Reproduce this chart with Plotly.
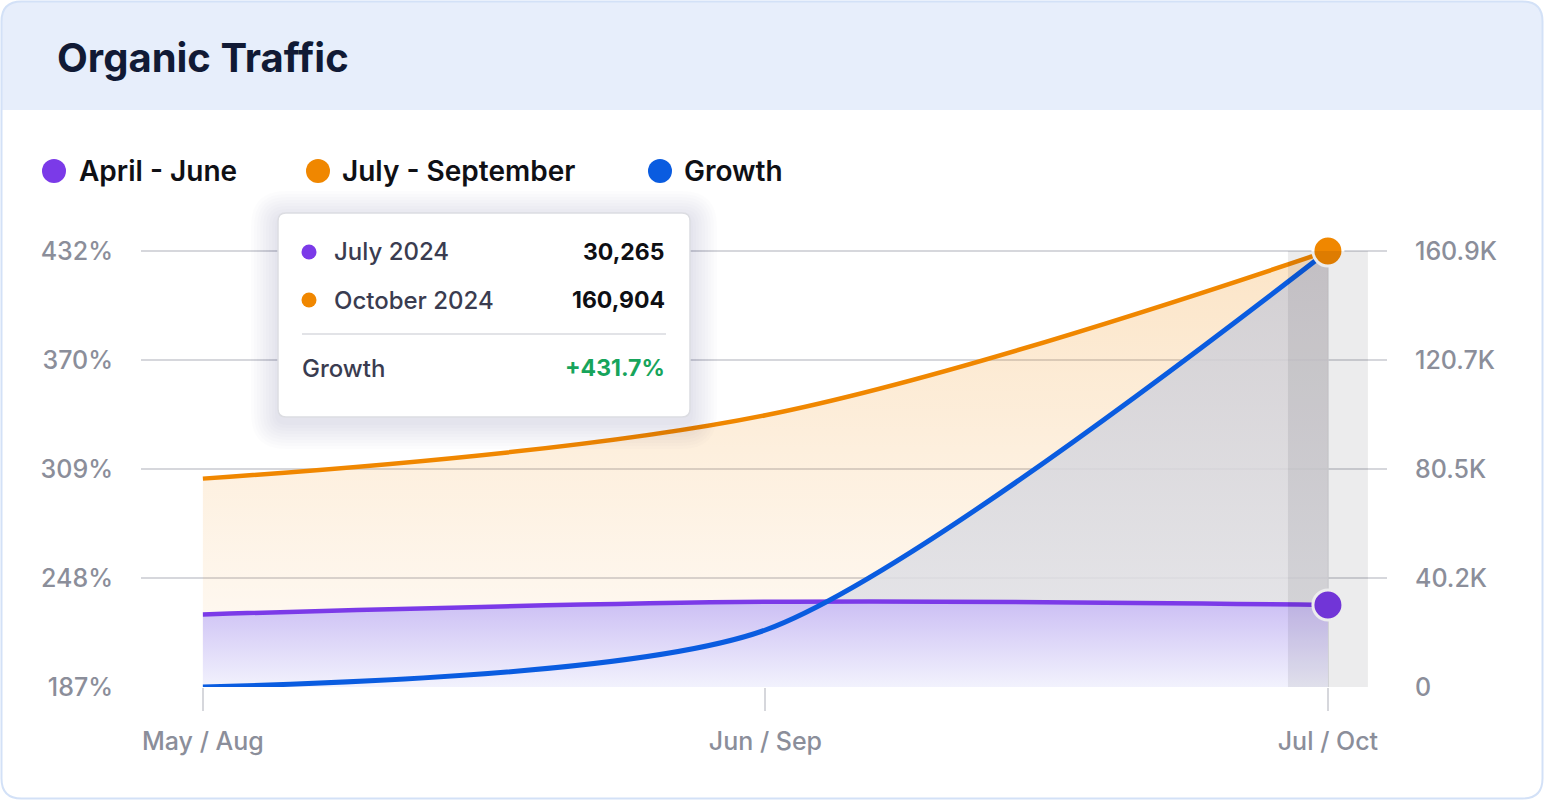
import plotly.graph_objects as go

# canvas + plot box (pixels)
W, H = 1544, 800
L, R, T, B = 141, 157, 240, 113
PW, PH = W - L - R, H - T - B

# data
months = ["May / Aug", "Jun / Sep", "Jul / Oct"]
april_june = [26800, 31450, 30265]
july_september = [76900, 100300, 160904]
growth = [186.9, 218.9, 431.7]

traffic_ticks = [0, 40226, 80452, 120678, 160904]
traffic_labels = ["0", "40.2K", "80.5K", "120.7K", "160.9K"]
growth_ticks = [186.9, 248.1, 309.3, 370.5, 431.7]
growth_labels = ["187%", "248%", "309%", "370%", "432%"]

series_names = ["April - June", "July - September", "Growth"]
tooltip_months = ["July 2024", "October 2024"]

PURPLE = "#7b3ae8"
ORANGE = "#f08700"
BLUE = "#0a5ce0"
GREEN = "#17a45b"
FONT = "Inter"

pad = 11  # px of headroom above top gridline
g_range = [growth_ticks[0], growth_ticks[-1] + (growth_ticks[-1] - growth_ticks[0]) * pad / (PH - pad)]
t_range = [0, traffic_ticks[-1] + traffic_ticks[-1] * pad / (PH - pad)]


def px(x):
    return (x - L) / PW


def py(y):
    return (H - B - y) / PH


def rrect(x0, y0, x1, y1, r):
    p = lambda x, y: f"{px(x):.5f},{py(y):.5f}"
    return (f"M {p(x0 + r, y0)} L {p(x1 - r, y0)} Q {p(x1, y0)} {p(x1, y0 + r)} "
            f"L {p(x1, y1 - r)} Q {p(x1, y1)} {p(x1 - r, y1)} L {p(x0 + r, y1)} "
            f"Q {p(x0, y1)} {p(x0, y1 - r)} L {p(x0, y0 + r)} Q {p(x0, y0)} {p(x0 + r, y0)} Z")


fig = go.Figure()

# fills first
fig.add_trace(go.Scatter(
    x=months, y=july_september, yaxis="y", mode="lines", fill="tozeroy",
    line=dict(width=0, shape="spline", smoothing=1),
    fillgradient=dict(type="vertical", start=0, stop=traffic_ticks[-1],
                      colorscale=[[0, "rgba(240,135,0,0.03)"], [1, "rgba(240,135,0,0.22)"]]),
))
fig.add_trace(go.Scatter(
    x=months, y=growth, yaxis="y2", mode="lines", fill="tozeroy",
    line=dict(width=0, shape="spline", smoothing=0.7),
    fillgradient=dict(type="vertical", start=growth_ticks[0], stop=growth_ticks[-1],
                      colorscale=[[0, "rgba(228,229,234,0.85)"], [1, "rgba(203,203,212,0.85)"]]),
))
fig.add_trace(go.Scatter(
    x=months, y=april_june, yaxis="y3", mode="lines", fill="tozeroy",
    line=dict(width=4.5, color=PURPLE, shape="spline", smoothing=1),
    fillgradient=dict(type="vertical", start=0, stop=32000,
                      colorscale=[[0, "rgb(242,242,253)"], [1, "rgb(203,190,244)"]]),
))
fig.add_trace(go.Scatter(
    x=months, y=july_september, yaxis="y3", mode="lines",
    line=dict(width=4.5, color=ORANGE, shape="spline", smoothing=1),
))
fig.add_trace(go.Scatter(
    x=months, y=growth, yaxis="y4", mode="lines",
    line=dict(width=5, color=BLUE, shape="spline", smoothing=0.7),
))
# end point markers
fig.add_trace(go.Scatter(
    x=[months[-1], months[-1]], y=[july_september[-1], april_june[-1]], yaxis="y5",
    mode="markers", cliponaxis=False,
    marker=dict(size=30, color=[ORANGE, PURPLE], line=dict(width=3, color="white")),
))

shapes = []
# card header + border
shapes.append(dict(type="path", xref="paper", yref="paper", layer="below",
                   path=(f"M {px(2):.5f},{py(110):.5f} L {px(2):.5f},{py(20):.5f} "
                         f"Q {px(2):.5f},{py(2):.5f} {px(20):.5f},{py(2):.5f} "
                         f"L {px(1524):.5f},{py(2):.5f} Q {px(1542):.5f},{py(2):.5f} {px(1542):.5f},{py(20):.5f} "
                         f"L {px(1542):.5f},{py(110):.5f} Z"),
                   fillcolor="#e7eefb", line=dict(width=0)))
shapes.append(dict(type="path", xref="paper", yref="paper", layer="below",
                   path=rrect(1.5, 1.5, 1542.5, 798.5, 20),
                   line=dict(color="#d3e1f7", width=2)))

# hover band + crosshair
bw = 40 / 562.5
shapes.append(dict(type="line", xref="x", yref="paper", x0=2, x1=2, y0=0, y1=py(251),
                   layer="below", line=dict(color="#d6d7dc", width=1.5)))
shapes.append(dict(type="rect", xref="x", yref="paper", x0=2 - bw, x1=2 + bw, y0=0, y1=py(251),
                   layer="above", fillcolor="rgba(0,0,10,0.075)", line=dict(width=0)))

# legend dots
for cx, col in zip([54, 318, 660], [PURPLE, ORANGE, BLUE]):
    shapes.append(dict(type="circle", xref="paper", yref="paper",
                       x0=px(cx - 12), x1=px(cx + 12), y0=py(171 + 12), y1=py(171 - 12),
                       fillcolor=col, line=dict(width=0)))

# tooltip shadow + box
for i in range(1, 10):
    shapes.append(dict(type="path", xref="paper", yref="paper", layer="above",
                       path=rrect(278 - 3 * i, 213 - 3 * i + 5, 690 + 3 * i, 417 + 3 * i + 5, 8 + 3 * i),
                       fillcolor="rgba(30,35,60,0.011)", line=dict(width=0)))
shapes.append(dict(type="path", xref="paper", yref="paper", layer="above",
                   path=rrect(278, 213, 690, 417, 8),
                   fillcolor="white", line=dict(color="#dcdde2", width=1.5)))
shapes.append(dict(type="line", xref="paper", yref="paper", layer="above",
                   x0=px(302), x1=px(666), y0=py(334), y1=py(334),
                   line=dict(color="#d9dadf", width=1.5)))
for cy, col in zip([252, 300], [PURPLE, ORANGE]):
    shapes.append(dict(type="circle", xref="paper", yref="paper", layer="above",
                       x0=px(309 - 7.5), x1=px(309 + 7.5), y0=py(cy + 7.5), y1=py(cy - 7.5),
                       fillcolor=col, line=dict(width=0)))

annotations = []


def note(text, x, y, size, color, anchor="left", weight=400):
    annotations.append(dict(text=text, x=px(x), y=py(y), xref="paper", yref="paper",
                            xanchor=anchor, yanchor="middle", showarrow=False,
                            font=dict(family=FONT, size=size, color=color, weight=weight)))


note("Organic Traffic", 55, 57, 40, "#111a35", weight=700)
for lx, name in zip([77, 340, 682], series_names):
    note(name, lx, 171, 28, "#0f1015", weight=600)

note(tooltip_months[0], 332, 252, 24, "#3a3c50", weight=500)
note(f"{april_june[-1]:,}", 667, 252, 23, "#0e0f14", anchor="right", weight=700)
note(tooltip_months[1], 332, 300, 24, "#3a3c50", weight=500)
note(f"{july_september[-1]:,}", 667, 300, 23, "#0e0f14", anchor="right", weight=700)
note("Growth", 300, 368, 24, "#3a3c50", weight=500)
note(f"+{growth[-1]}%", 667, 368, 23, GREEN, anchor="right", weight=700)

tick_font = dict(family=FONT, size=25, color="#8b8e9a", weight=500)
hidden_t = dict(overlaying="y", visible=False, range=t_range)
hidden_g = dict(overlaying="y", visible=False, range=g_range)

fig.update_layout(
    width=W, height=H,
    margin=dict(l=L, r=R, t=T, b=B),
    paper_bgcolor="white", plot_bgcolor="rgba(0,0,0,0)",
    showlegend=False, hovermode=False,
    shapes=shapes, annotations=annotations,
    xaxis=dict(type="category", range=[-0.11, 2.105], showgrid=False, zeroline=False,
               showline=False, ticks="outside", ticklen=23, tickwidth=1.5, tickcolor="#d6d7dc",
               tickfont=tick_font, ticklabelstandoff=9),
    yaxis=dict(side="right", range=t_range, tickvals=traffic_ticks, ticktext=traffic_labels,
               showgrid=True, gridcolor="#d6d7dc", gridwidth=1.5, zeroline=False, showline=False,
               ticks="", tickfont=tick_font, ticklabelstandoff=27),
    yaxis2=dict(side="left", overlaying="y", range=g_range, tickvals=growth_ticks,
                ticktext=growth_labels, showgrid=False, zeroline=False, showline=False,
                ticks="", tickfont=tick_font, ticklabelstandoff=27),
    yaxis3=hidden_t, yaxis4=hidden_g, yaxis5=hidden_t,
)

fig.write_html("out.html", config={"displayModeBar": False},
               post_script="document.body.style.margin='0';document.body.style.overflow='hidden';")
